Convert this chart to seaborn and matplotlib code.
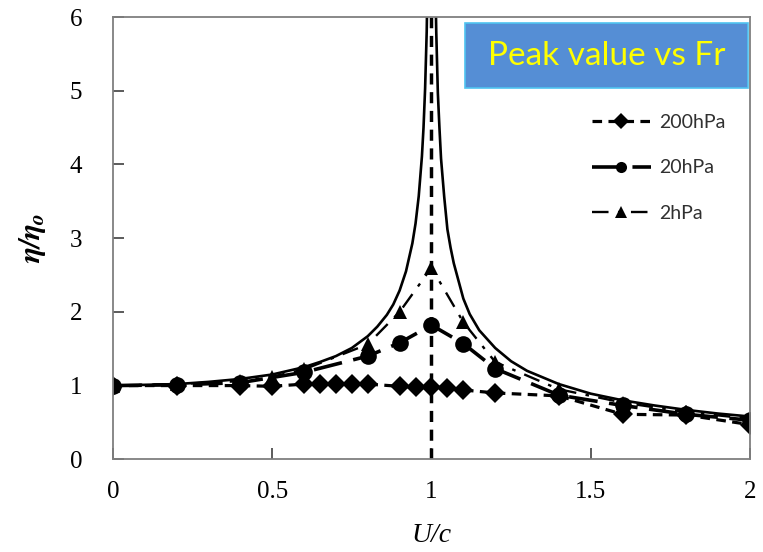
import numpy as np
import pandas as pd
import seaborn as sns
import matplotlib.pyplot as plt
from matplotlib.patches import Rectangle

plt.rcParams["mathtext.fontset"] = "stix"

# --- data ---
u_200 = [0, 0.2, 0.4, 0.5, 0.6, 0.65, 0.7, 0.75, 0.8, 0.9, 0.95, 1.0, 1.05, 1.1, 1.2, 1.4, 1.6, 1.8, 2.0]
eta_200 = [1.0, 1.0, 1.0, 0.99, 1.02, 1.02, 1.02, 1.02, 1.02, 0.99, 0.98, 0.98, 0.97, 0.94, 0.9, 0.86, 0.61, 0.6, 0.47]

u_20 = [0, 0.2, 0.4, 0.6, 0.8, 0.9, 1.0, 1.1, 1.2, 1.4, 1.6, 1.8, 2.0]
eta_20 = [1.0, 1.01, 1.04, 1.18, 1.4, 1.58, 1.82, 1.57, 1.23, 0.87, 0.73, 0.61, 0.53]

u_2 = [0, 0.2, 0.4, 0.5, 0.6, 0.8, 0.9, 1.0, 1.1, 1.2, 1.4, 1.6, 1.8, 2.0]
eta_2 = [1.0, 1.02, 1.06, 1.12, 1.22, 1.56, 2.0, 2.6, 1.86, 1.32, 0.95, 0.77, 0.64, 0.55]

# theoretical (inviscid) curve, read point by point
u_th = [0, 0.2, 0.3, 0.4, 0.5, 0.6, 0.65, 0.7, 0.75, 0.8, 0.83, 0.86, 0.88, 0.9, 0.92, 0.94, 0.95, 0.96,
        0.97, 0.975, 0.98, 0.985, 0.99, 0.995,
        1.005, 1.01, 1.015, 1.02, 1.025, 1.03, 1.04, 1.05, 1.06, 1.07, 1.08, 1.1, 1.12, 1.15, 1.2, 1.25,
        1.3, 1.4, 1.5, 1.6, 1.7, 1.8, 1.9, 2.0]
eta_th = [1.0, 1.02, 1.05, 1.09, 1.15, 1.25, 1.32, 1.4, 1.51, 1.67, 1.8, 1.96, 2.1, 2.29, 2.55, 2.93, 3.2, 3.57,
          4.11, 4.5, 5.03, 5.8, 7.1, 10.0,
          10.0, 7.0, 5.8, 4.97, 4.5, 4.08, 3.56, 3.12, 2.87, 2.66, 2.5, 2.18, 1.97, 1.75, 1.51, 1.33,
          1.2, 1.02, 0.89, 0.8, 0.73, 0.67, 0.62, 0.58]

resonance_u = 1.0
labels = ["200hPa", "20hPa", "2hPa"]

fig, ax = plt.subplots(figsize=(7.63, 5.52), dpi=100)
fig.subplots_adjust(left=0.148, right=0.983, bottom=0.168, top=0.969)

sns.lineplot(x=u_th, y=eta_th, ax=ax, color="black", lw=1.9, sort=False)
ax.axvline(resonance_u, color="black", lw=2.5, ls=(0, (3.2, 2.2)))

sns.lineplot(x=u_200, y=eta_200, ax=ax, color="black", lw=2.3, ls=(0, (3, 2)),
             marker="D", markersize=10, markeredgewidth=0, label=labels[0])
sns.lineplot(x=u_20, y=eta_20, ax=ax, color="black", lw=2.6, ls=(0, (8, 3.2)),
             marker="o", markersize=12, markeredgewidth=0, label=labels[1])
sns.lineplot(x=u_2, y=eta_2, ax=ax, color="black", lw=1.7, ls=(0, (7, 4, 1.5, 4)),
             marker="^", markersize=9.5, markeredgewidth=0, label=labels[2])

ax.set_xlim(0, 2)
ax.set_ylim(0, 6)
ax.set_xticks([0, 0.5, 1, 1.5, 2])
ax.set_xticklabels(["0", "0.5", "1", "1.5", "2"])
ax.set_yticks(range(7))

serif = "Liberation Serif"
for lab in ax.get_xticklabels() + ax.get_yticklabels():
    lab.set_fontfamily(serif)
    lab.set_fontsize(18)
ax.tick_params(axis="both", direction="in", length=8, width=1.2, color="#404040")
ax.tick_params(axis="x", pad=16)
ax.tick_params(axis="y", pad=22)

for sp in ax.spines.values():
    sp.set_color("#7f7f7f")
    sp.set_linewidth(1.3)

ax.set_xlabel("U/c", fontfamily=serif, fontstyle="italic", fontsize=20, labelpad=14)
ax.set_ylabel(r"$\mathbfit{\eta/\eta_o}$", fontsize=22, labelpad=16)

# title box
ax.add_patch(Rectangle((0.553, 0.839), 0.444, 0.147, transform=ax.transAxes,
                       facecolor="#558ED5", edgecolor="#4FC3F0", lw=1.2, zorder=5))
ax.text(0.775, 0.912, "Peak value vs Fr", transform=ax.transAxes, ha="center", va="center",
        color="#FFFF00", fontsize=24, fontfamily="Lato", zorder=6)

leg = ax.legend(loc="upper left", bbox_to_anchor=(0.725, 0.82), frameon=False,
                fontsize=14, labelspacing=1.45, handlelength=3.0, handletextpad=0.45)
for h in leg.legend_handles:
    h.set_markersize(8)
for t in leg.get_texts():
    t.set_color("#303030")
    t.set_fontfamily("Lato")

fig.savefig("out.png", dpi=100)
